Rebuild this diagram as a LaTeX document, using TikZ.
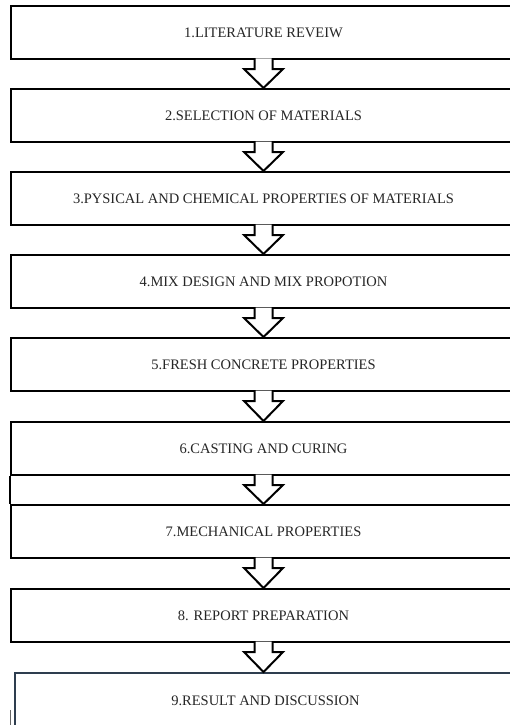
\documentclass[tikz,border=0pt]{standalone}
\usepackage{fontspec}
\setmainfont{Liberation Serif}
\usetikzlibrary{calc}
\tikzset{
  stepbox/.style={draw=black, line width=2pt, fill=white, minimum width=505pt,
    minimum height=53pt, inner sep=0pt, anchor=north west,
    font=\fontsize{14.5}{17}\selectfont, text=black!85},
  lastbox/.style={stepbox, draw={rgb,255:red,46;green,61;blue,79}, minimum width=501pt, minimum height=56pt},
  arrowline/.style={draw=black, line width=2pt, line join=miter},
}
\newcommand\flowarrow[2]{%
  \fill[white] ($(#1.south)+(-8,-1.5)$) -- ($(#1.south)+(8,-1.5)$)
     -- ($(#1.south)+(8,9)$) -- ($(#1.south)+(19.5,9)$) -- (#1.south |- #2.north)
     -- ($(#1.south)+(-19.5,9)$) -- ($(#1.south)+(-8,9)$) -- cycle;
  \draw[arrowline] ($(#1.south)+(-9,0)$) -- ($(#1.south)+(-9,9)$)
     -- ($(#1.south)+(-19.5,9)$) -- (#1.south |- #2.north)
     -- ($(#1.south)+(19.5,9)$) -- ($(#1.south)+(9,9)$) -- ($(#1.south)+(9,0)$);
}
\begin{document}
\begin{tikzpicture}[x=1pt,y=-1pt]
\useasboundingbox (0,0) rectangle (510,725);
\clip (0,0) rectangle (510,725);
\fill[white] (0,0) rectangle (510,725);
\node[stepbox] (b1) at (10,5)   {1.LITERATURE REVEIW};
\node[stepbox] (b2) at (10,88)  {2.SELECTION OF MATERIALS};
\node[stepbox] (b3) at (10,171) {3.PYSICAL AND CHEMICAL PROPERTIES OF MATERIALS};
\node[stepbox] (b4) at (10,254) {4.MIX DESIGN AND MIX PROPOTION};
\node[stepbox] (b5) at (10,337) {5.FRESH CONCRETE PROPERTIES};
\node[stepbox] (b6) at (10,421) {6.CASTING AND CURING};
\node[stepbox] (b7) at (10,504) {7.MECHANICAL PROPERTIES};
\node[stepbox] (b8) at (10,588) {8. REPORT PREPARATION};
\node[lastbox] (b9) at (14,672) {9.RESULT AND DISCUSSION};
\draw[arrowline] (b6.south west) -- (b7.north west);
\flowarrow{b1}{b2}
\flowarrow{b2}{b3}
\flowarrow{b3}{b4}
\flowarrow{b4}{b5}
\flowarrow{b5}{b6}
\flowarrow{b6}{b7}
\flowarrow{b7}{b8}
\flowarrow{b8}{b9}
\coordinate (m1) at (10,710);
\coordinate (m2) at (10,725);
\draw[black!60, line width=0.8pt] (m1) -- (m2);
\end{tikzpicture}
\end{document}
